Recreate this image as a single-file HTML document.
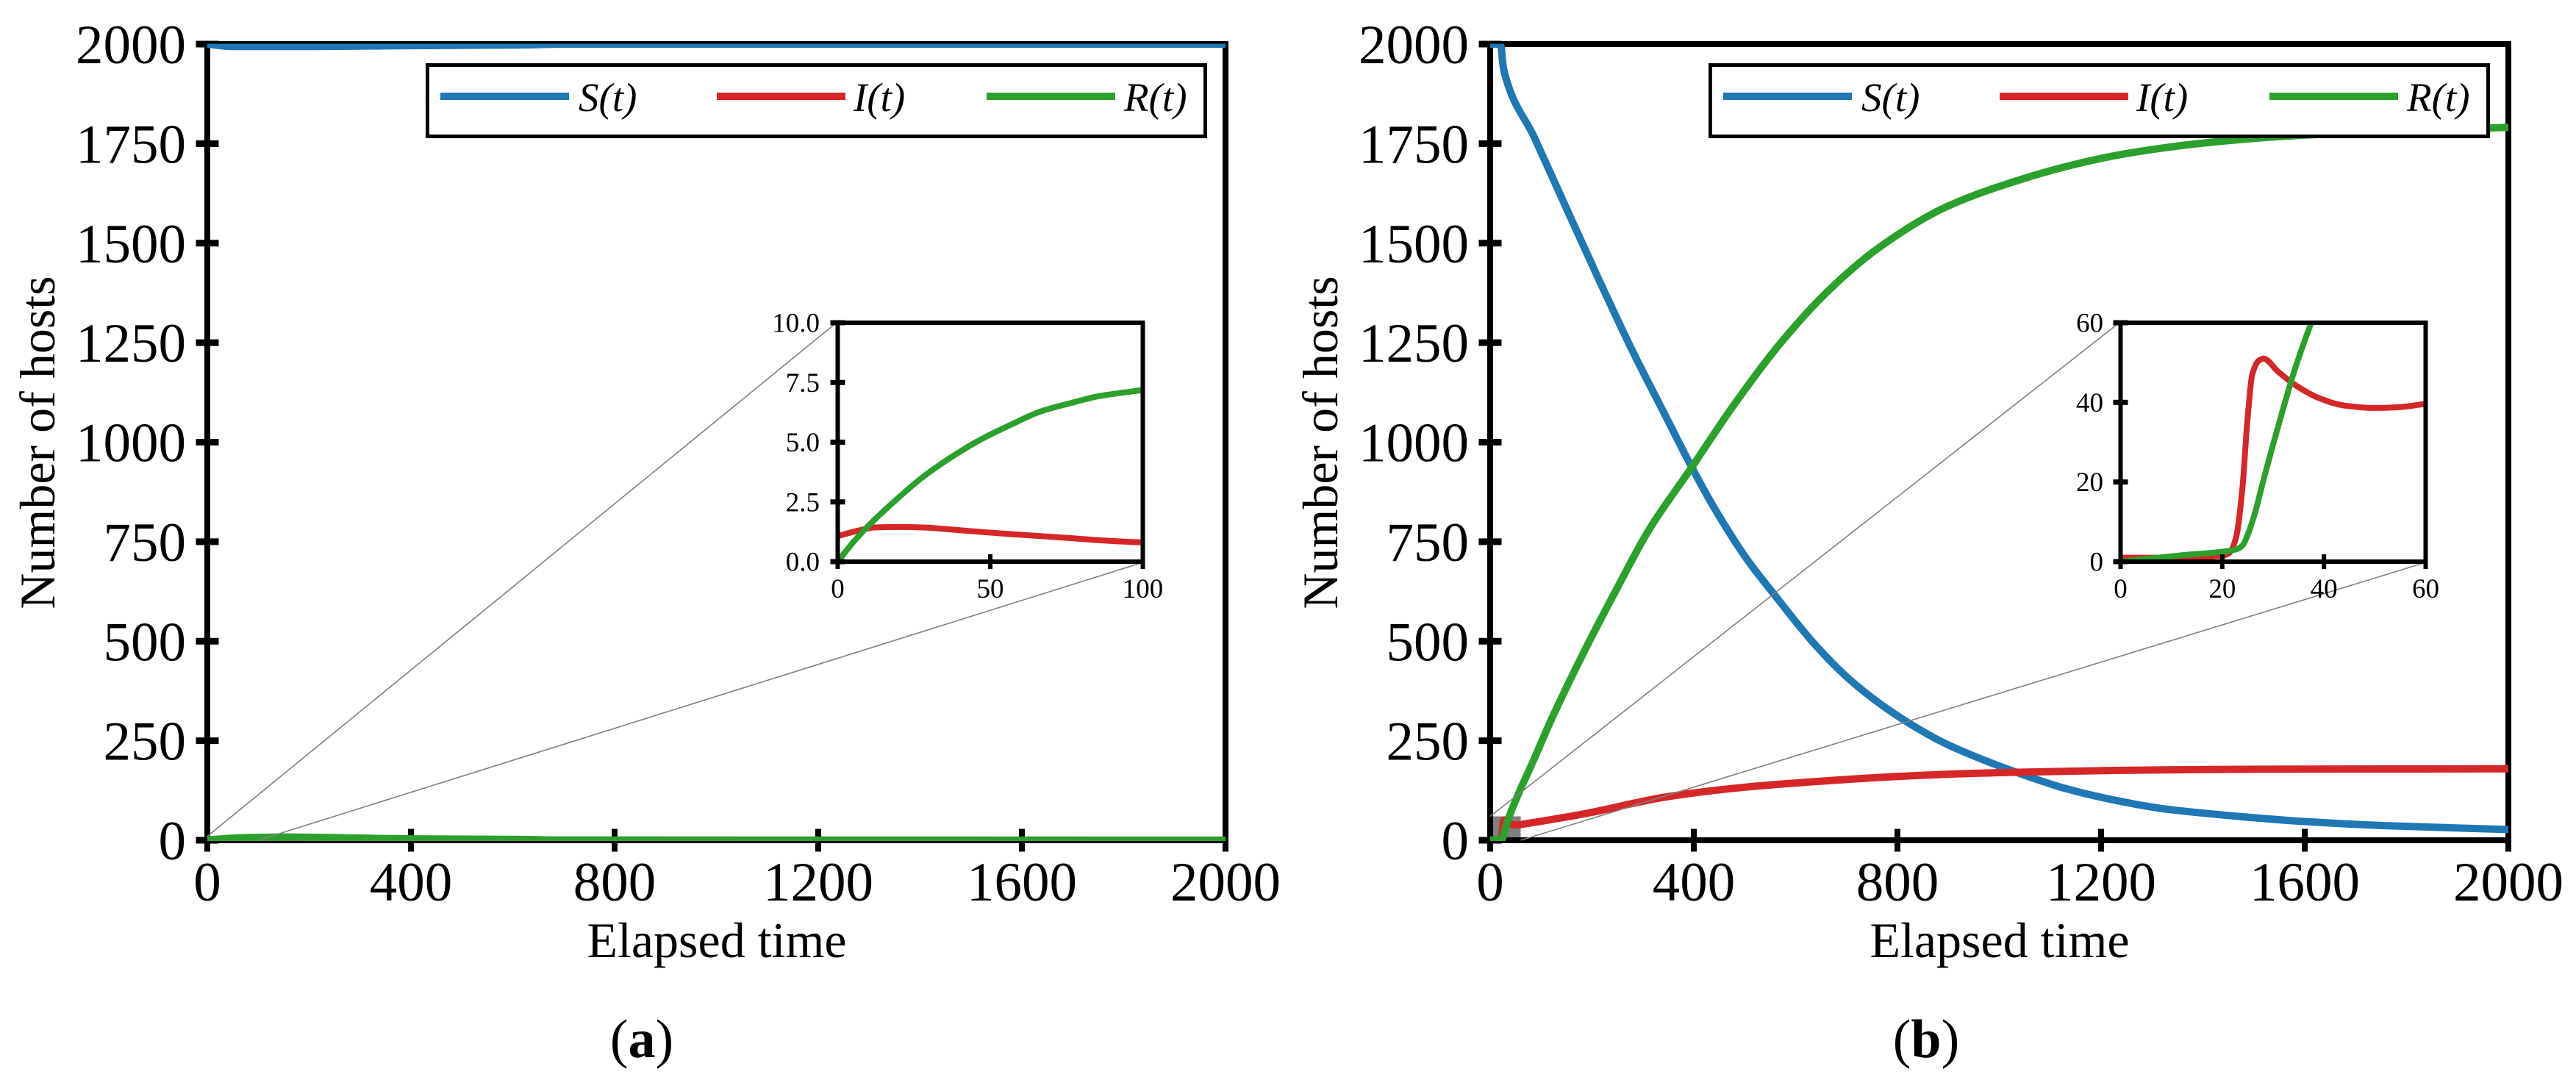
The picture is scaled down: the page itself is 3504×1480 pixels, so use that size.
<!DOCTYPE html>
<html lang="en">
<head>
<meta charset="utf-8">
<title>SIR model: number of hosts over elapsed time</title>
<style>
html,body{margin:0;padding:0;background:#fff;}
svg{display:block;}
text{font-family:"Liberation Serif",serif;fill:#000;}
</style>
</head>
<body>
<svg id="figure" xmlns="http://www.w3.org/2000/svg" width="3504" height="1480" viewBox="0 0 3504 1480">
  <rect x="0" y="0" width="3504" height="1480" fill="#fff"/>
  <g id="panel-a"></g>
  <g id="panel-b" transform="translate(1745,0)"></g>
  <text x="873" y="1438" font-size="74" text-anchor="middle">(<tspan font-weight="bold">a</tspan>)</text>
  <text x="2620" y="1438" font-size="74" text-anchor="middle">(<tspan font-weight="bold">b</tspan>)</text>
</svg>
<script>
// Axis ticks
const mainTicksX = [0, 400, 800, 1200, 1600, 2000];
const mainTicksY = [0, 250, 500, 750, 1000, 1250, 1500, 1750, 2000];
const aInsetTicksX = [0, 50, 100];
const aInsetTicksY = [0, 2.5, 5, 7.5, 10];
const aInsetLabelsY = ["0.0", "2.5", "5.0", "7.5", "10.0"];
const bInsetTicksX = [0, 20, 40, 60];
const bInsetTicksY = [0, 20, 40, 60];
const bInsetLabelsY = ["0", "20", "40", "60"];
const seriesNames = ["S(t)", "I(t)", "R(t)"];

// Panel (a) series
const aSTimes = [0, 20, 45, 100, 210, 300, 400, 625, 700, 1000, 2000];
const aSValues = [2000, 1997, 1994, 1994, 1994, 1995, 1996, 1998, 2000, 2000, 2000];
const aITimes = [0, 6.4, 12, 20.7, 28, 37.8, 47.3, 56.9, 66.4, 75.9, 85.4, 99.2, 300, 600, 2000];
const aIValues = [1.07, 1.29, 1.43, 1.45, 1.43, 1.34, 1.24, 1.15, 1.07, 0.99, 0.9, 0.81, 0.5, 0.2, 0.1];
const aRTimes = [0, 5, 11, 18.8, 28, 37.8, 47.3, 56.9, 66.4, 75.9, 85.4, 99.2, 150, 300, 400, 620, 700, 2000];
const aRValues = [0, 0.8, 1.62, 2.55, 3.55, 4.42, 5.14, 5.74, 6.28, 6.62, 6.92, 7.17, 8, 5.5, 3.5, 2, 0.4, 0.2];

// Panel (b) series
const bSTimes = [0, 18, 22, 24, 28.6, 86.6, 151, 215.5, 280, 344.5, 396, 441, 506, 557, 635, 699, 763.5, 828, 892.5, 957, 1046, 1130, 1207, 1323, 1452, 1600, 1774, 2000];
const bSValues = [2000, 2000, 1990, 1960, 1925, 1766, 1584, 1403, 1228, 1066, 937, 833, 703, 619, 496, 412, 345, 290, 244, 208, 165, 130, 106, 79, 62, 47, 36, 27];
const bITimes = [0, 10, 20, 21.4, 22.7, 24, 24.9, 25.9, 27.2, 28.1, 31, 34.3, 38.8, 44, 49.7, 54.9, 59.7, 87, 183, 351, 506, 635, 796, 1001, 1259, 1516, 2000];
const bIValues = [1, 1, 1.5, 2.2, 6, 19, 34.7, 47, 50.5, 51, 47.7, 44.4, 41.2, 39.2, 38.6, 38.8, 39.6, 45, 66, 110, 134, 147, 160, 170, 176, 178.5, 179.5];
const bRTimes = [0, 12, 20, 22.8, 24, 25.2, 26.5, 27.8, 31, 34.2, 37.5, 54, 86.6, 119, 183, 248, 312, 396, 474, 571, 668, 765, 894, 1023, 1155, 1259, 1413, 1581, 2000];
const bRValues = [0, 1.6, 2.5, 3.1, 4.1, 7.4, 12.5, 19, 34, 48, 60, 112, 205, 300, 470, 630, 780, 937, 1085, 1250, 1385, 1490, 1590, 1652, 1700, 1727, 1753, 1770, 1791];

// Zoom windows of the insets
const aInsetMaxT = 100;
const aInsetMaxV = 10;
const bInsetMaxT = 60;
const bInsetMaxV = 60;

const NS = "http://www.w3.org/2000/svg";
const colours = ["#1f77b4", "#d62728", "#2ca02c"];
const MAIN = { left: 282, right: 1667, top: 60, bottom: 1143, maxT: 2000, maxV: 2000 };

function make(tag, attrs, parent, text) {
  const node = document.createElementNS(NS, tag);
  for (const key in attrs) node.setAttribute(key, attrs[key]);
  if (text !== undefined) node.textContent = text;
  parent.appendChild(node);
  return node;
}
function scaleX(box, t) { return box.left + t * (box.right - box.left) / box.maxT; }
function scaleY(box, v) { return box.bottom - v * (box.bottom - box.top) / box.maxV; }

// Monotone cubic path through the data points
function curvePath(box, times, values) {
  const xs = times.map(t => scaleX(box, t));
  const ys = values.map(v => scaleY(box, v));
  const n = xs.length;
  const slopes = [];
  for (let i = 0; i < n - 1; i++) slopes.push((ys[i + 1] - ys[i]) / (xs[i + 1] - xs[i]));
  const m = [slopes[0]];
  for (let i = 1; i < n - 1; i++) {
    const h0 = xs[i] - xs[i - 1], h1 = xs[i + 1] - xs[i], s0 = slopes[i - 1], s1 = slopes[i];
    m.push(s0 * s1 <= 0 ? 0 : 3 * (h0 + h1) / ((2 * h1 + h0) / s0 + (h1 + 2 * h0) / s1));
  }
  m.push(slopes[n - 2]);
  let d = "M" + xs[0].toFixed(2) + " " + ys[0].toFixed(2);
  for (let i = 0; i < n - 1; i++) {
    const h = (xs[i + 1] - xs[i]) / 3;
    d += "C" + (xs[i] + h).toFixed(2) + " " + (ys[i] + m[i] * h).toFixed(2) + " " +
      (xs[i + 1] - h).toFixed(2) + " " + (ys[i + 1] - m[i + 1] * h).toFixed(2) + " " +
      xs[i + 1].toFixed(2) + " " + ys[i + 1].toFixed(2);
  }
  return d;
}

function drawSpines(parent, box, w) {
  const h = w / 2;
  const specs = [
    ["top", box.left - h, box.top - h, box.right - box.left + w, w],
    ["bottom", box.left - h, box.bottom - h, box.right - box.left + w, w],
    ["left", box.left - h, box.top - h, w, box.bottom - box.top + w],
    ["right", box.right - h, box.top - h, w, box.bottom - box.top + w]
  ];
  specs.forEach(s => {
    const r = make("rect", { x: s[1], y: s[2], width: s[3], height: s[4], fill: "#000" }, parent);
    
    
  });
}

function drawTicks(parent, box, ticksX, ticksY, labelsY, opt) {
  ticksX.forEach(t => {
    const x = scaleX(box, t);
    const tick = make("rect", { x: x - opt.xThick / 2, y: box.bottom - opt.len, width: opt.xThick, height: opt.len * 2, fill: "#000" }, parent);
    
    
    const label = make("text", { x: x, y: opt.xBase, "font-size": opt.font, "text-anchor": "middle" }, parent, String(t));
    
    
  });
  ticksY.forEach((v, i) => {
    const y = scaleY(box, v);
    const tick = make("rect", { x: box.left - opt.len, y: y - opt.yThick / 2, width: opt.len * 2, height: opt.yThick, fill: "#000" }, parent);
    
    
    const label = make("text", { x: opt.yRight, y: y + opt.yShift, "font-size": opt.font, "text-anchor": "end" }, parent, labelsY[i]);
    
    
  });
}

function drawSeries(parent, box, series, indices, width, clipId, prefix) {
  indices.forEach(i => {
    const s = series[i];
    const line = make("path", { d: curvePath(box, s[0], s[1]), fill: "none", stroke: colours[i], "stroke-width": width, "stroke-linejoin": "round", "clip-path": "url(#" + clipId + ")" }, parent);
    
    
  });
}

function drawLegend(parent) {
  const box = make("rect", { x: 581.5, y: 88.5, width: 1058, height: 97, fill: "#fff", stroke: "#000", "stroke-width": 5 }, parent);
  
  
  const lineStarts = [599, 975, 1342];
  const textStarts = [787, 1161, 1529];
  seriesNames.forEach((name, i) => {
    const swatch = make("rect", { x: lineStarts[i], y: 126, width: 175, height: 10, fill: colours[i] }, parent);
    
    
    const label = make("text", { x: textStarts[i], y: 151, "font-size": 55, "font-style": "italic" }, parent, name);
    
    
  });
}

function drawPanel(id, series, insetIndices, insetTicksX, insetTicksY, insetLabelsY, maxT, maxV, labelRight) {
  const g = document.getElementById(id);
  const defs = make("defs", {}, g);
  const mainClip = make("clipPath", { id: id + "-main-clip" }, defs);
  make("rect", { x: 281, y: 59.5, width: 1388, height: 1084.5 }, mainClip);
  const insetClip = make("clipPath", { id: id + "-inset-clip" }, defs);
  const inset = { left: 1139.5, right: 1554.5, top: 439, bottom: 764, maxT: maxT, maxV: maxV };
  make("rect", { x: inset.left, y: inset.top, width: inset.right - inset.left, height: inset.bottom - inset.top }, insetClip);

  // Zoom indicator rectangle
  const zoomX1 = scaleX(MAIN, maxT);
  const zoomY1 = scaleY(MAIN, maxV);
  const indicator = make("rect", { x: MAIN.left, y: zoomY1, width: zoomX1 - MAIN.left, height: MAIN.bottom - zoomY1, fill: "#808080" }, g);
  
  

  drawSpines(g, MAIN, 8);
  drawTicks(g, MAIN, mainTicksX, mainTicksY, mainTicksY.map(String), { xThick: 8, yThick: 9, len: 15.5, font: 75, xBase: 1225, yRight: 253, yShift: 26 });
  drawSeries(g, MAIN, series, [0, 1, 2], 10, id + "-main-clip", "main");

  const xTitle = make("text", { x: 975, y: 1302, "font-size": 68, "text-anchor": "middle" }, g, "Elapsed time");
  
  
  const yTitle = make("text", { x: 0, y: 0, "font-size": 68, "text-anchor": "middle", transform: "translate(74,602) rotate(-90)" }, g, "Number of hosts");
  
  

  // Connector lines from zoom region to inset
  const connectorUp = make("line", { x1: MAIN.left, y1: zoomY1, x2: inset.left - 3, y2: inset.top + 1, stroke: "#808080", "stroke-width": 1.6 }, g);
  
  
  const connectorDown = make("line", { x1: zoomX1, y1: MAIN.bottom, x2: inset.right - 3, y2: inset.bottom + 2, stroke: "#808080", "stroke-width": 1.6 }, g);
  
  

  drawLegend(g);

  // Inset
  const insetBg = make("rect", { x: inset.left, y: inset.top, width: inset.right - inset.left, height: inset.bottom - inset.top, fill: "#fff" }, g);
  
  
  drawSeries(g, inset, series, insetIndices, 8, id + "-inset-clip", "inset");
  drawSpines(g, inset, 6);
  drawTicks(g, inset, insetTicksX, insetTicksY, insetLabelsY, { xThick: 6, yThick: 7, len: 10, font: 37, xBase: 813, yRight: labelRight, yShift: 12.5 });
}

const aSeries = [[aSTimes, aSValues], [aITimes, aIValues], [aRTimes, aRValues]];
const bSeries = [[bSTimes, bSValues], [bITimes, bIValues], [bRTimes, bRValues]];
drawPanel("panel-a", aSeries, [1, 2], aInsetTicksX, aInsetTicksY, aInsetLabelsY, aInsetMaxT, aInsetMaxV, 1115);
drawPanel("panel-b", bSeries, [1, 2], bInsetTicksX, bInsetTicksY, bInsetLabelsY, bInsetMaxT, bInsetMaxV, 1116);
</script>
</body>
</html>
